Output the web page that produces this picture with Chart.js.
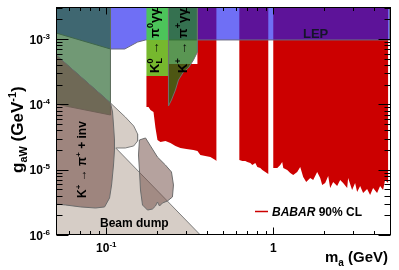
<!DOCTYPE html>
<html><head><meta charset="utf-8">
<script src="https://cdn.jsdelivr.net/npm/chart.js@4.4.1/dist/chart.umd.min.js"></script>
<style>html,body{margin:0;padding:0;background:#fff;}canvas{display:block;}</style>
</head><body>
<canvas id="c" width="399" height="270"></canvas>
<script>
const FONT = '"Liberation Sans", Arial, Helvetica, sans-serif';

// ---- axis ranges and tick labels ----
const xRange = [0.05, 5];
const yRange = [1e-6, 3.1e-3];
const xTickLabels = [[0.1, '10', '-1'], [1, '1', '']];
const yTickLabels = [[1e-6, '10', '-6'], [1e-5, '10', '-5'], [1e-4, '10', '-4'], [1e-3, '10', '-3']];

// ---- exclusion regions, [m_a (GeV), g_aW (GeV^-1)] ----
const beamDump = [[0.05,1e-6],[0.05,5.71e-4],[0.106,1.05e-4],[0.130,6.41e-5],[0.146,4.67e-5],[0.154,3.52e-5],
  [0.154,2.75e-5],[0.146,2.31e-5],[0.130,2.15e-5],[0.114,2.15e-5],[0.366,1e-6]];
const kPiInv = [[0.05,5.71e-4],[0.106,1.05e-4],[0.109,7.65e-5],[0.1105,4.84e-5],[0.112,2.85e-5],[0.112,2.0e-5],
  [0.1105,1.18e-5],[0.1076,5.83e-6],[0.1046,3.69e-6],[0.0977,2.69e-6],[0.0863,2.59e-6],[0.0702,2.69e-6],
  [0.0571,2.88e-6],[0.05,2.98e-6]];
const kPiInvHigh = [[0.158,2.85e-5],[0.1718,3.06e-5],[0.184,2.31e-5],[0.2026,1.56e-5],[0.226,1.18e-5],[0.2457,9.22e-6],
  [0.2525,5.83e-6],[0.249,3.82e-6],[0.2325,3.32e-6],[0.217,3.09e-6],[0.2083,2.78e-6],[0.2026,3.2e-6],
  [0.1971,2.78e-6],[0.1891,2.5e-6],[0.1766,2.41e-6],[0.1648,2.88e-6],[0.1603,4.89e-6],[0.158,9.89e-6],[0.156,1.68e-5]];
const babarA = [[0.174,2.72e-4],[0.2357,2.72e-4],[0.2357,4.16e-4],[0.3515,4.16e-4],[0.3515,3.1e-3],[0.4565,3.1e-3],
  [0.4565,1.36e-5],[0.450,1.41e-5],[0.420,1.56e-5],[0.392,1.62e-5],[0.366,1.68e-5],[0.3515,1.93e-5],[0.3326,2.0e-5],
  [0.302,2.07e-5],[0.278,2.15e-5],[0.2596,2.31e-5],[0.2423,2.56e-5],[0.2262,2.75e-5],[0.2111,2.66e-5],[0.2026,2.85e-5],
  [0.1971,4.35e-5],[0.1918,7.65e-5],[0.184,8.21e-5],[0.179,9.13e-5],[0.174,9.13e-5]];
const babarB = [[0.6263,3.1e-3],[0.9336,3.1e-3],[0.9336,8.59e-6],[0.896,9.22e-6],[0.860,9.89e-6],[0.836,1.062e-5],
  [0.8026,1.10e-5],[0.7805,1.27e-5],[0.749,1.18e-5],[0.7288,1.27e-5],[0.699,1.31e-5],[0.680,1.36e-5],[0.6526,1.36e-5],
  [0.6263,1.41e-5]];
const babarC = [[1.0,3.1e-3],[4.87,3.1e-3],[4.87,6.26e-6],[4.672,6.95e-6],[4.545,4.89e-6],[4.362,5.63e-6],[4.185,4.4e-6],
  [3.961,5.25e-6],[3.801,4.1e-6],[3.647,5.07e-6],[3.452,4.4e-6],[3.313,5.63e-6],[3.178,4.55e-6],[3.09,6.26e-6],
  [2.966,4.89e-6],[2.807,7.46e-6],[2.770,5.25e-6],[2.621,6.26e-6],[2.515,6.95e-6],[2.413,5.63e-6],[2.284,6.48e-6],
  [2.191,5.25e-6],[2.133,8.01e-6],[2.045,6.26e-6],[1.963,5.83e-6],[1.910,7.46e-6],[1.832,9.22e-6],[1.734,6.95e-6],
  [1.664,7.46e-6],[1.575,6.48e-6],[1.511,7.73e-6],[1.450,1.10e-5],[1.391,9.22e-6],[1.317,8.3e-6],[1.264,8.9e-6],
  [1.212,9.89e-6],[1.148,1.062e-5],[1.131,1.31e-5],[1.101,1.18e-5],[1.057,1.062e-5],[1.0,1.062e-5]];
const lep = [[0.05,3.1e-3],[5,3.1e-3],[5,9.7e-4],[0.172,9.7e-4],[0.154,9.0e-4],[0.129,7.05e-4],[0.106,7.05e-4],[0.05,1.24e-3]];
const greenLow = [[0.05,3.1e-3],[0.106,3.1e-3],[0.106,6.88e-5],[0.05,1.01e-4]];
const kLPi0ggTop = [[0.174,3.1e-3],[0.2357,3.1e-3],[0.2357,9.7e-4],[0.174,9.7e-4]];
const kLPi0gg = [[0.174,9.7e-4],[0.2357,9.7e-4],[0.2357,2.72e-4],[0.174,2.72e-4]];
const kPigg = [[0.2357,3.1e-3],[0.3515,3.1e-3],[0.3515,6.35e-4],[0.3326,4.78e-4],[0.310,3.61e-4],[0.2897,3.13e-4],
  [0.2705,2.36e-4],[0.2596,1.66e-4],[0.2457,1.167e-4],[0.2357,9.45e-5]];

// ---- regions drawn bottom to top ----
const regions = [
  {d: beamDump, bg: '#d6cdc6', bc: '#7c7c7c', bw: 1},
  {d: babarA, bg: '#cc0000', bc: '#cc0000', bw: 0},
  {d: babarB, bg: '#cc0000', bc: '#cc0000', bw: 0},
  {d: babarC, bg: '#cc0000', bc: '#cc0000', bw: 0},
  {d: lep, bg: 'rgba(30,30,240,0.64)', bc: '#6a6a80', bw: 1},
  {d: greenLow, bg: 'rgba(40,100,45,0.66)', bc: '#5f6f5f', bw: 1},
  {d: kPiInv, bg: 'rgba(120,85,78,0.6)', bc: '#6c6c6c', bw: 1},
  {d: kPiInvHigh, bg: 'rgba(120,85,78,0.55)', bc: '#6c6c6c', bw: 1},
  {d: kLPi0ggTop, bg: '#4cc45a', bc: '#4cc45a', bw: 0},
  {d: kLPi0gg, bg: '#76b82e', bc: '#76b82e', bw: 0},
  {d: kPigg, bg: 'rgba(35,115,25,0.75)', bc: '#707070', bw: 1}
];

const N = regions.length;
const datasets = regions.map((r, i) => ({
  data: r.d.concat([r.d[0]]).map(p => ({x: p[0], y: p[1]})),
  showLine: true, fill: 'shape', tension: 0,
  backgroundColor: r.bg, borderColor: r.bc, borderWidth: r.bw,
  pointRadius: 0, pointHoverRadius: 0, order: N - 1 - i
}));

function drawRich(ctx, parts, x, y) {
  let cx = x, pend = 0;
  for (const p of parts) {
    ctx.font = (p.st || 'bold') + ' ' + p.s + 'px ' + FONT;
    ctx.fillText(p.t, cx, y + (p.dy || 0));
    const w = ctx.measureText(p.t).width;
    if (p.stack) { pend = w; } else { cx += Math.max(w, pend); pend = 0; }
  }
  return cx - x;
}
function measureRich(ctx, parts) {
  let w = 0, pend = 0;
  for (const p of parts) {
    ctx.font = (p.st || 'bold') + ' ' + p.s + 'px ' + FONT;
    const m = ctx.measureText(p.t).width;
    if (p.stack) pend = m; else { w += Math.max(m, pend); pend = 0; }
  }
  return w;
}

const rootAxes = {
  id: 'rootAxes',
  afterDraw(chart) {
    const {ctx, chartArea: a, scales: {x, y}} = chart;
    ctx.save();
    ctx.fillStyle = '#000';
    ctx.textBaseline = 'alphabetic';
    ctx.save();
    ctx.beginPath(); ctx.rect(a.left, a.top, a.right - a.left, a.bottom - a.top); ctx.clip();
    const rot = (px, py, parts) => { ctx.save(); ctx.translate(px, py); ctx.rotate(-Math.PI / 2); drawRich(ctx, parts, 0, 0); ctx.restore(); };
    rot(159, 73, [{t:'K',s:13},{t:'L',s:9,dy:3,stack:true},{t:'0',s:9,dy:-6},{t:' \u2192 \u03c0',s:13},{t:'0',s:9,dy:-6},{t:'\u03b3\u03b3',s:13}]);
    rot(187, 73, [{t:'K',s:13},{t:'+',s:9,dy:-6},{t:' \u2192 \u03c0',s:13},{t:'+',s:9,dy:-6},{t:'\u03b3\u03b3',s:13}]);
    rot(86, 198, [{t:'K',s:12},{t:'+',s:8,dy:-5},{t:' \u2192 \u03c0',s:12},{t:'+',s:8,dy:-5},{t:' + inv',s:12}]);
    ctx.fillStyle = '#15152a';
    drawRich(ctx, [{t:'LEP', s:13}], 303, 38);
    ctx.fillStyle = '#000';
    drawRich(ctx, [{t:'Beam dump', s:12}], 100, 227);
    ctx.strokeStyle = '#cc0000'; ctx.lineWidth = 1.5;
    ctx.beginPath(); ctx.moveTo(255, 211.5); ctx.lineTo(268, 211.5); ctx.stroke();
    drawRich(ctx, [{t:'BABAR', s:12, st:'italic bold'}, {t:' 90% CL', s:12}], 272, 216);
    ctx.restore();

    const L = Math.round(a.left) + 0.5, R = Math.round(a.right) + 0.5, T = Math.round(a.top) + 0.5, B = Math.round(a.bottom) - 0.5;
    ctx.strokeStyle = '#000'; ctx.lineWidth = 1;
    ctx.strokeRect(L, T, R - L, B - T);
    ctx.beginPath();
    for (let e = -6; e <= -3; e++) {
      for (let k = 1; k <= 9; k++) {
        const v = k * Math.pow(10, e);
        if (v < yRange[0] || v > yRange[1]) continue;
        const py = Math.round(y.getPixelForValue(v)) + 0.5;
        const len = k === 1 ? 12 : 6;
        ctx.moveTo(L, py); ctx.lineTo(L + len, py);
        ctx.moveTo(R, py); ctx.lineTo(R - len, py);
      }
    }
    for (let e = -2; e <= 0; e++) {
      for (let k = 1; k <= 9; k++) {
        const v = k * Math.pow(10, e);
        if (v < xRange[0] - 1e-9 || v > xRange[1] + 1e-9) continue;
        const px = Math.round(x.getPixelForValue(v)) + 0.5;
        const len = k === 1 ? 7 : 3.5;
        ctx.moveTo(px, B); ctx.lineTo(px, B - len);
        ctx.moveTo(px, T); ctx.lineTo(px, T + len);
      }
    }
    ctx.stroke();
    ctx.fillStyle = '#000';
    for (const [v, b, e] of yTickLabels) {
      const parts = [{t:b, s:12}, {t:e, s:8, dy:-5}];
      const w = measureRich(ctx, parts);
      drawRich(ctx, parts, 50 - w, y.getPixelForValue(v) + 4.5);
    }
    for (const [v, b, e] of xTickLabels) {
      const parts = e ? [{t:b, s:12}, {t:e, s:8, dy:-5}] : [{t:b, s:12}];
      const w = measureRich(ctx, parts);
      drawRich(ctx, parts, x.getPixelForValue(v) - w / 2, 252);
    }
    drawRich(ctx, [{t:'m', s:15}, {t:'a', s:10, dy:4}, {t:' (GeV)', s:15}], 325, 262);
    ctx.save(); ctx.translate(23, 173); ctx.rotate(-Math.PI / 2);
    drawRich(ctx, [{t:'g', s:17}, {t:'aW', s:11, dy:4}, {t:' (GeV', s:17}, {t:'-1', s:11, dy:-7}, {t:')', s:17}], 0, 0);
    ctx.restore();
    ctx.restore();
  }
};

new Chart(document.getElementById('c'), {
  type: 'scatter',
  data: {datasets},
  options: {
    responsive: false, animation: false, devicePixelRatio: 1,
    layout: {padding: {left: 56, right: 9, top: 7, bottom: 35}},
    plugins: {legend: {display: false}, tooltip: {enabled: false}},
    events: [],
    scales: {
      x: {type: 'logarithmic', min: xRange[0], max: xRange[1], display: false},
      y: {type: 'logarithmic', min: yRange[0], max: yRange[1], display: false}
    }
  },
  plugins: [rootAxes]
});
</script>
</body></html>
